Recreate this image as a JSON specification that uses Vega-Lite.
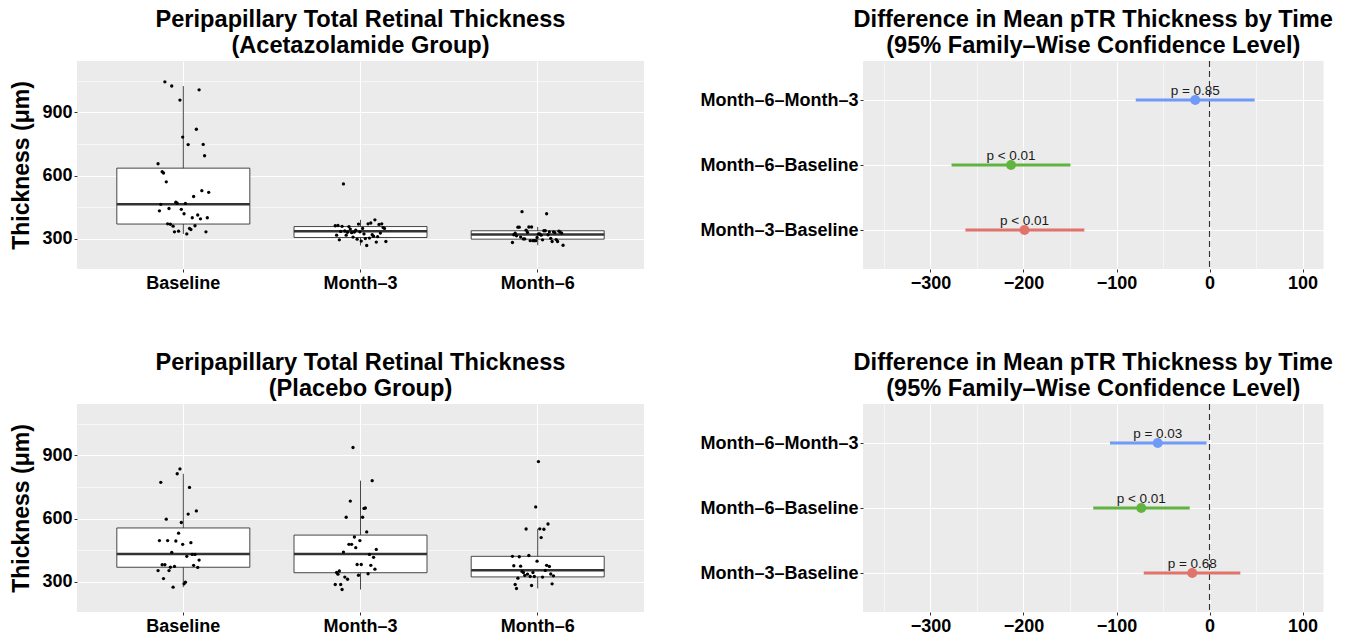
{
"$schema": "https://vega.github.io/schema/vega-lite/v6.json",
"background": "white",
"padding": {"left": 10, "top": 7, "right": 5, "bottom": 5},
"config": {
  "font": "Liberation Sans",
  "view": {"fill": "#EBEBEB", "stroke": null},
  "axis": {"domain": false, "grid": true, "gridColor": "white", "tickColor": "#333333", "tickSize": 3, "labelFont": "Liberation Sans", "labelFontSize": 18, "labelFontWeight": "bold", "labelColor": "black", "titleFont": "Liberation Sans", "titleFontSize": 23, "titleFontWeight": "bold", "titleColor": "black", "labelPadding": 2},
  "title": {"font": "Liberation Sans", "fontSize": 23.6, "fontWeight": "bold", "anchor": "middle", "frame": "group", "color": "black", "lineHeight": 26, "offset": 3},
  "concat": {"spacing": 55}
},
"datasets": {
  "acet_box": [
    {"time": "Baseline", "lower": 322, "q1": 369, "median": 463, "q3": 635, "upper": 1026},
    {"time": "Month–3", "lower": 267, "q1": 305, "median": 335, "q3": 357, "upper": 389},
    {"time": "Month–6", "lower": 268, "q1": 297, "median": 319, "q3": 337, "upper": 355}
  ],
  "plac_box": [
    {"time": "Baseline", "lower": 273, "q1": 368, "median": 431, "q3": 555, "upper": 813},
    {"time": "Month–3", "lower": 262, "q1": 342, "median": 431, "q3": 521, "upper": 780},
    {"time": "Month–6", "lower": 267, "q1": 322, "median": 354, "q3": 420, "upper": 551}
  ],
  "acet_ci": [
    {"comparison": "Month–6–Month–3", "diff": -15.4, "lwr": -79.3, "upr": 48.5, "p": "p = 0.85"},
    {"comparison": "Month–6–Baseline", "diff": -213.4, "lwr": -277.3, "upr": -149.5, "p": "p < 0.01"},
    {"comparison": "Month–3–Baseline", "diff": -198.9, "lwr": -262.4, "upr": -134.6, "p": "p < 0.01"}
  ],
  "plac_ci": [
    {"comparison": "Month–6–Month–3", "diff": -55.7, "lwr": -107, "upr": -3.2, "p": "p = 0.03"},
    {"comparison": "Month–6–Baseline", "diff": -73.4, "lwr": -125, "upr": -21.3, "p": "p < 0.01"},
    {"comparison": "Month–3–Baseline", "diff": -18.6, "lwr": -70.7, "upr": 33.1, "p": "p = 0.68"}
  ],
  "acet_pts": [
    {"time":"Baseline","id":1,"thickness":656},{"time":"Baseline","id":2,"thickness":432},{"time":"Baseline","id":3,"thickness":463},{"time":"Baseline","id":4,"thickness":618},{"time":"Baseline","id":5,"thickness":612},{"time":"Baseline","id":6,"thickness":1046},{"time":"Baseline","id":7,"thickness":570},{"time":"Baseline","id":8,"thickness":370},{"time":"Baseline","id":9,"thickness":443},{"time":"Baseline","id":10,"thickness":368},{"time":"Baseline","id":11,"thickness":1026},{"time":"Baseline","id":12,"thickness":359},{"time":"Baseline","id":13,"thickness":332},{"time":"Baseline","id":14,"thickness":473},{"time":"Baseline","id":15,"thickness":468},{"time":"Baseline","id":16,"thickness":335},{"time":"Baseline","id":17,"thickness":959},{"time":"Baseline","id":18,"thickness":439},{"time":"Baseline","id":19,"thickness":783},{"time":"Baseline","id":20,"thickness":418},{"time":"Baseline","id":21,"thickness":467},{"time":"Baseline","id":22,"thickness":322},{"time":"Baseline","id":23,"thickness":747},{"time":"Baseline","id":24,"thickness":348},{"time":"Baseline","id":25,"thickness":343},{"time":"Baseline","id":26,"thickness":399},{"time":"Baseline","id":27,"thickness":500},{"time":"Baseline","id":28,"thickness":361},{"time":"Baseline","id":29,"thickness":820},{"time":"Baseline","id":30,"thickness":412},{"time":"Baseline","id":31,"thickness":1008},{"time":"Baseline","id":32,"thickness":394},{"time":"Baseline","id":33,"thickness":528},{"time":"Baseline","id":34,"thickness":748},{"time":"Baseline","id":35,"thickness":694},{"time":"Baseline","id":36,"thickness":332},{"time":"Baseline","id":37,"thickness":399},{"time":"Baseline","id":38,"thickness":520},
    {"time":"Month–3","id":1,"thickness":361},{"time":"Month–3","id":2,"thickness":316},{"time":"Month–3","id":3,"thickness":362},{"time":"Month–3","id":4,"thickness":294},{"time":"Month–3","id":5,"thickness":334},{"time":"Month–3","id":6,"thickness":358},{"time":"Month–3","id":7,"thickness":560},{"time":"Month–3","id":8,"thickness":336},{"time":"Month–3","id":9,"thickness":316},{"time":"Month–3","id":10,"thickness":330},{"time":"Month–3","id":11,"thickness":357},{"time":"Month–3","id":12,"thickness":345},{"time":"Month–3","id":13,"thickness":328},{"time":"Month–3","id":14,"thickness":307},{"time":"Month–3","id":15,"thickness":331},{"time":"Month–3","id":16,"thickness":340},{"time":"Month–3","id":17,"thickness":297},{"time":"Month–3","id":18,"thickness":369},{"time":"Month–3","id":19,"thickness":332},{"time":"Month–3","id":20,"thickness":288},{"time":"Month–3","id":21,"thickness":348},{"time":"Month–3","id":22,"thickness":322},{"time":"Month–3","id":23,"thickness":300},{"time":"Month–3","id":24,"thickness":267},{"time":"Month–3","id":25,"thickness":370},{"time":"Month–3","id":26,"thickness":302},{"time":"Month–3","id":27,"thickness":374},{"time":"Month–3","id":28,"thickness":318},{"time":"Month–3","id":29,"thickness":311},{"time":"Month–3","id":30,"thickness":389},{"time":"Month–3","id":31,"thickness":283},{"time":"Month–3","id":32,"thickness":309},{"time":"Month–3","id":33,"thickness":367},{"time":"Month–3","id":34,"thickness":326},{"time":"Month–3","id":35,"thickness":370},{"time":"Month–3","id":36,"thickness":352},{"time":"Month–3","id":37,"thickness":348},{"time":"Month–3","id":38,"thickness":286},
    {"time":"Month–6","id":1,"thickness":281},{"time":"Month–6","id":2,"thickness":318},{"time":"Month–6","id":3,"thickness":325},{"time":"Month–6","id":4,"thickness":313},{"time":"Month–6","id":5,"thickness":354},{"time":"Month–6","id":6,"thickness":354},{"time":"Month–6","id":7,"thickness":307},{"time":"Month–6","id":8,"thickness":428},{"time":"Month–6","id":9,"thickness":298},{"time":"Month–6","id":10,"thickness":298},{"time":"Month–6","id":11,"thickness":340},{"time":"Month–6","id":12,"thickness":329},{"time":"Month–6","id":13,"thickness":355},{"time":"Month–6","id":14,"thickness":290},{"time":"Month–6","id":15,"thickness":355},{"time":"Month–6","id":16,"thickness":290},{"time":"Month–6","id":17,"thickness":290},{"time":"Month–6","id":18,"thickness":290},{"time":"Month–6","id":19,"thickness":305},{"time":"Month–6","id":20,"thickness":322},{"time":"Month–6","id":21,"thickness":322},{"time":"Month–6","id":22,"thickness":316},{"time":"Month–6","id":23,"thickness":294},{"time":"Month–6","id":24,"thickness":337},{"time":"Month–6","id":25,"thickness":337},{"time":"Month–6","id":26,"thickness":418},{"time":"Month–6","id":27,"thickness":318},{"time":"Month–6","id":28,"thickness":332},{"time":"Month–6","id":29,"thickness":301},{"time":"Month–6","id":30,"thickness":286},{"time":"Month–6","id":31,"thickness":332},{"time":"Month–6","id":32,"thickness":328},{"time":"Month–6","id":33,"thickness":295},{"time":"Month–6","id":34,"thickness":286},{"time":"Month–6","id":35,"thickness":335},{"time":"Month–6","id":36,"thickness":330},{"time":"Month–6","id":37,"thickness":326},{"time":"Month–6","id":38,"thickness":268}
  ],
  "plac_pts": [
    {"time":"Baseline","id":1,"thickness":352},{"time":"Baseline","id":2,"thickness":495},{"time":"Baseline","id":3,"thickness":772},{"time":"Baseline","id":4,"thickness":380},{"time":"Baseline","id":5,"thickness":314},{"time":"Baseline","id":6,"thickness":380},{"time":"Baseline","id":7,"thickness":597},{"time":"Baseline","id":8,"thickness":495},{"time":"Baseline","id":9,"thickness":352},{"time":"Baseline","id":10,"thickness":368},{"time":"Baseline","id":11,"thickness":439},{"time":"Baseline","id":12,"thickness":273},{"time":"Baseline","id":13,"thickness":372},{"time":"Baseline","id":14,"thickness":493},{"time":"Baseline","id":15,"thickness":813},{"time":"Baseline","id":16,"thickness":530},{"time":"Baseline","id":17,"thickness":836},{"time":"Baseline","id":18,"thickness":581},{"time":"Baseline","id":19,"thickness":477},{"time":"Baseline","id":20,"thickness":289},{"time":"Baseline","id":21,"thickness":297},{"time":"Baseline","id":22,"thickness":420},{"time":"Baseline","id":23,"thickness":621},{"time":"Baseline","id":24,"thickness":748},{"time":"Baseline","id":25,"thickness":485},{"time":"Baseline","id":26,"thickness":429},{"time":"Baseline","id":27,"thickness":377},{"time":"Baseline","id":28,"thickness":429},{"time":"Baseline","id":29,"thickness":636},{"time":"Baseline","id":30,"thickness":367},{"time":"Baseline","id":31,"thickness":402},
    {"time":"Month–3","id":1,"thickness":286},{"time":"Month–3","id":2,"thickness":343},{"time":"Month–3","id":3,"thickness":335},{"time":"Month–3","id":4,"thickness":350},{"time":"Month–3","id":5,"thickness":286},{"time":"Month–3","id":6,"thickness":262},{"time":"Month–3","id":7,"thickness":440},{"time":"Month–3","id":8,"thickness":321},{"time":"Month–3","id":9,"thickness":606},{"time":"Month–3","id":10,"thickness":311},{"time":"Month–3","id":11,"thickness":477},{"time":"Month–3","id":12,"thickness":683},{"time":"Month–3","id":13,"thickness":477},{"time":"Month–3","id":14,"thickness":938},{"time":"Month–3","id":15,"thickness":512},{"time":"Month–3","id":16,"thickness":461},{"time":"Month–3","id":17,"thickness":381},{"time":"Month–3","id":18,"thickness":330},{"time":"Month–3","id":19,"thickness":495},{"time":"Month–3","id":20,"thickness":381},{"time":"Month–3","id":21,"thickness":606},{"time":"Month–3","id":22,"thickness":648},{"time":"Month–3","id":23,"thickness":650},{"time":"Month–3","id":24,"thickness":536},{"time":"Month–3","id":25,"thickness":337},{"time":"Month–3","id":26,"thickness":429},{"time":"Month–3","id":27,"thickness":377},{"time":"Month–3","id":28,"thickness":780},{"time":"Month–3","id":29,"thickness":415},{"time":"Month–3","id":30,"thickness":359},{"time":"Month–3","id":31,"thickness":453},
    {"time":"Month–6","id":1,"thickness":420},{"time":"Month–6","id":2,"thickness":375},{"time":"Month–6","id":3,"thickness":286},{"time":"Month–6","id":4,"thickness":267},{"time":"Month–6","id":5,"thickness":316},{"time":"Month–6","id":6,"thickness":418},{"time":"Month–6","id":7,"thickness":373},{"time":"Month–6","id":8,"thickness":348},{"time":"Month–6","id":9,"thickness":343},{"time":"Month–6","id":10,"thickness":329},{"time":"Month–6","id":11,"thickness":550},{"time":"Month–6","id":12,"thickness":335},{"time":"Month–6","id":13,"thickness":424},{"time":"Month–6","id":14,"thickness":324},{"time":"Month–6","id":15,"thickness":281},{"time":"Month–6","id":16,"thickness":343},{"time":"Month–6","id":17,"thickness":324},{"time":"Month–6","id":18,"thickness":655},{"time":"Month–6","id":19,"thickness":397},{"time":"Month–6","id":20,"thickness":871},{"time":"Month–6","id":21,"thickness":551},{"time":"Month–6","id":22,"thickness":509},{"time":"Month–6","id":23,"thickness":321},{"time":"Month–6","id":24,"thickness":549},{"time":"Month–6","id":25,"thickness":353},{"time":"Month–6","id":26,"thickness":377},{"time":"Month–6","id":27,"thickness":574},{"time":"Month–6","id":28,"thickness":372},{"time":"Month–6","id":29,"thickness":336},{"time":"Month–6","id":30,"thickness":289},{"time":"Month–6","id":31,"thickness":327}
  ]
},
"spacing": 58,
"vconcat": [
 {"hconcat": [
  {
   "width": 567, "height": 208,
   "title": {"text": ["Peripapillary Total Retinal Thickness", "(Acetazolamide Group)"]},
   "encoding": {"x": {"field": "time", "type": "nominal", "sort": ["Baseline", "Month–3", "Month–6"], "scale": {"paddingInner": 0.25, "paddingOuter": 0.225}, "title": null, "axis": {"labelAngle": 0, "bandPosition": 0.5, "gridWidth": 1.1}}},
   "layer": [
    {"data": {"name": "acet_box"}, "mark": {"type": "rule", "color": "#333333", "strokeWidth": 0.9},
     "encoding": {"y": {"field": "lower", "type": "quantitative", "title": "Thickness (μm)", "scale": {"domain": [155, 1145], "nice": false, "zero": false}, "axis": {"values": [300, 450, 600, 750, 900, 1050], "labelExpr": "datum.value % 300 === 0 ? datum.label : ''", "gridWidth": {"condition": {"test": "datum.value % 300 === 0", "value": 1.1}, "value": 0.55}, "tickOpacity": {"condition": {"test": "datum.value % 300 === 0", "value": 1}, "value": 0}, "titlePadding": 8}}, "y2": {"field": "upper"}}},
    {"data": {"name": "acet_box"}, "mark": {"type": "bar", "fill": "white", "stroke": "#333333", "strokeWidth": 0.9, "width": 133},
     "encoding": {"y": {"field": "q1", "type": "quantitative", "title": "Thickness (μm)"}, "y2": {"field": "q3"}}},
    {"data": {"name": "acet_box"}, "mark": {"type": "tick", "color": "#333333", "thickness": 2.4, "size": 133, "opacity": 1},
     "encoding": {"y": {"field": "median", "type": "quantitative", "title": "Thickness (μm)"}}},
    {"data": {"name": "acet_pts"}, "mark": {"type": "circle", "color": "black", "opacity": 1, "size": 11},
     "encoding": {"y": {"field": "thickness", "type": "quantitative", "title": "Thickness (μm)"}, "xOffset": {"field": "id", "type": "ordinal", "sort": "ascending", "scale": {"range": [40.5, 92.5]}}}}
   ]
  },
  {
   "width": 460.5, "height": 208,
   "title": {"text": ["Difference in Mean pTR Thickness by Time", "(95% Family–Wise Confidence Level)"]},
   "encoding": {"y": {"field": "comparison", "type": "nominal", "sort": ["Month–6–Month–3", "Month–6–Baseline", "Month–3–Baseline"], "scale": {"type": "point", "padding": 0.6}, "title": null, "axis": {"gridWidth": 1.1}}},
   "layer": [
    {"data": {"values": [{"ref": 0}]}, "mark": {"type": "rule", "strokeDash": [6, 4], "color": "#333333", "strokeWidth": 1.2},
     "encoding": {"x": {"field": "ref", "type": "quantitative", "title": null, "scale": {"domain": [-372.5, 122.5], "nice": false, "zero": false}, "axis": {"values": [-350, -300, -250, -200, -150, -100, -50, 0, 50, 100], "labelExpr": "datum.value % 100 === 0 ? datum.label : ''", "gridWidth": {"condition": {"test": "datum.value % 100 === 0", "value": 1.1}, "value": 0.55}, "tickOpacity": {"condition": {"test": "datum.value % 100 === 0", "value": 1}, "value": 0}}}, "y": null}},
    {"data": {"name": "acet_ci"}, "mark": {"type": "rule", "strokeWidth": 3},
     "encoding": {"x": {"field": "lwr", "type": "quantitative", "title": null}, "x2": {"field": "upr"}, "color": {"field": "comparison", "type": "nominal", "scale": {"domain": ["Month–3–Baseline", "Month–6–Baseline", "Month–6–Month–3"], "range": ["#E0736A", "#62B440", "#6F9AF8"]}, "legend": null}}},
    {"data": {"name": "acet_ci"}, "mark": {"type": "circle", "size": 100, "opacity": 1},
     "encoding": {"x": {"field": "diff", "type": "quantitative", "title": null}, "color": {"field": "comparison", "type": "nominal", "legend": null}}},
    {"data": {"name": "acet_ci"}, "mark": {"type": "text", "fontSize": 13.5, "dy": -5, "baseline": "alphabetic", "color": "#1a1a1a", "font": "Liberation Sans"},
     "encoding": {"x": {"field": "diff", "type": "quantitative", "title": null}, "text": {"field": "p"}}}
   ]
  }
 ]},
 {"hconcat": [
  {
   "width": 567, "height": 208,
   "title": {"text": ["Peripapillary Total Retinal Thickness", "(Placebo Group)"]},
   "encoding": {"x": {"field": "time", "type": "nominal", "sort": ["Baseline", "Month–3", "Month–6"], "scale": {"paddingInner": 0.25, "paddingOuter": 0.225}, "title": null, "axis": {"labelAngle": 0, "bandPosition": 0.5, "gridWidth": 1.1}}},
   "layer": [
    {"data": {"name": "plac_box"}, "mark": {"type": "rule", "color": "#333333", "strokeWidth": 0.9},
     "encoding": {"y": {"field": "lower", "type": "quantitative", "title": "Thickness (μm)", "scale": {"domain": [155, 1145], "nice": false, "zero": false}, "axis": {"values": [300, 450, 600, 750, 900, 1050], "labelExpr": "datum.value % 300 === 0 ? datum.label : ''", "gridWidth": {"condition": {"test": "datum.value % 300 === 0", "value": 1.1}, "value": 0.55}, "tickOpacity": {"condition": {"test": "datum.value % 300 === 0", "value": 1}, "value": 0}, "titlePadding": 8}}, "y2": {"field": "upper"}}},
    {"data": {"name": "plac_box"}, "mark": {"type": "bar", "fill": "white", "stroke": "#333333", "strokeWidth": 0.9, "width": 133},
     "encoding": {"y": {"field": "q1", "type": "quantitative", "title": "Thickness (μm)"}, "y2": {"field": "q3"}}},
    {"data": {"name": "plac_box"}, "mark": {"type": "tick", "color": "#333333", "thickness": 2.4, "size": 133, "opacity": 1},
     "encoding": {"y": {"field": "median", "type": "quantitative", "title": "Thickness (μm)"}}},
    {"data": {"name": "plac_pts"}, "mark": {"type": "circle", "color": "black", "opacity": 1, "size": 11},
     "encoding": {"y": {"field": "thickness", "type": "quantitative", "title": "Thickness (μm)"}, "xOffset": {"field": "id", "type": "ordinal", "sort": "ascending", "scale": {"range": [40.5, 92.5]}}}}
   ]
  },
  {
   "width": 460.5, "height": 208,
   "title": {"text": ["Difference in Mean pTR Thickness by Time", "(95% Family–Wise Confidence Level)"]},
   "encoding": {"y": {"field": "comparison", "type": "nominal", "sort": ["Month–6–Month–3", "Month–6–Baseline", "Month–3–Baseline"], "scale": {"type": "point", "padding": 0.6}, "title": null, "axis": {"gridWidth": 1.1}}},
   "layer": [
    {"data": {"values": [{"ref": 0}]}, "mark": {"type": "rule", "strokeDash": [6, 4], "color": "#333333", "strokeWidth": 1.2},
     "encoding": {"x": {"field": "ref", "type": "quantitative", "title": null, "scale": {"domain": [-372.5, 122.5], "nice": false, "zero": false}, "axis": {"values": [-350, -300, -250, -200, -150, -100, -50, 0, 50, 100], "labelExpr": "datum.value % 100 === 0 ? datum.label : ''", "gridWidth": {"condition": {"test": "datum.value % 100 === 0", "value": 1.1}, "value": 0.55}, "tickOpacity": {"condition": {"test": "datum.value % 100 === 0", "value": 1}, "value": 0}}}, "y": null}},
    {"data": {"name": "plac_ci"}, "mark": {"type": "rule", "strokeWidth": 3},
     "encoding": {"x": {"field": "lwr", "type": "quantitative", "title": null}, "x2": {"field": "upr"}, "color": {"field": "comparison", "type": "nominal", "scale": {"domain": ["Month–3–Baseline", "Month–6–Baseline", "Month–6–Month–3"], "range": ["#E0736A", "#62B440", "#6F9AF8"]}, "legend": null}}},
    {"data": {"name": "plac_ci"}, "mark": {"type": "circle", "size": 100, "opacity": 1},
     "encoding": {"x": {"field": "diff", "type": "quantitative", "title": null}, "color": {"field": "comparison", "type": "nominal", "legend": null}}},
    {"data": {"name": "plac_ci"}, "mark": {"type": "text", "fontSize": 13.5, "dy": -5, "baseline": "alphabetic", "color": "#1a1a1a", "font": "Liberation Sans"},
     "encoding": {"x": {"field": "diff", "type": "quantitative", "title": null}, "text": {"field": "p"}}}
   ]
  }
 ]}
]
}
